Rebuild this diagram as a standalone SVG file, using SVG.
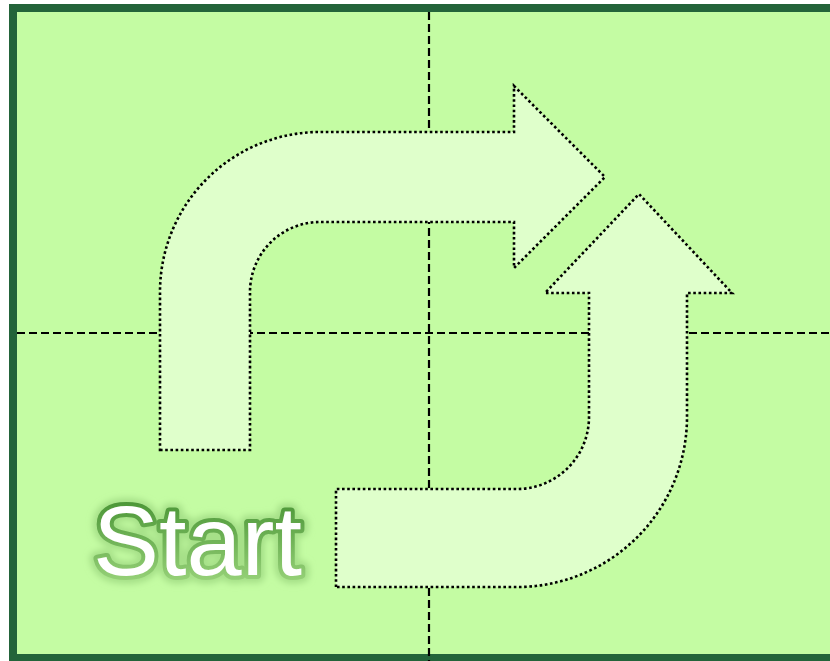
<svg xmlns="http://www.w3.org/2000/svg" width="830" height="661" viewBox="0 0 830 661">
<defs>
<style>
.grid{stroke:#000;stroke-width:2.2;stroke-dasharray:8,4;fill:none}
.arrow{fill:#dfffcb;stroke:#000;stroke-width:2.6;stroke-dasharray:2.6,2.6}
.title{font-family:"Liberation Sans",Arial,sans-serif;font-size:99px}
</style>
<linearGradient id="tg" x1="0" y1="0" x2="0" y2="1">
<stop offset="0" stop-color="#3c8a2a"/>
<stop offset="1" stop-color="#a4dc84"/>
</linearGradient>
<filter id="glow" x="-20%" y="-30%" width="140%" height="160%">
<feGaussianBlur stdDeviation="3"/>
</filter>
</defs>
<rect x="0" y="0" width="830" height="661" fill="#ffffff"/>
<rect id="frame" x="13" y="8" width="830" height="650" fill="#c4fca3" stroke="#23643a" stroke-width="8"/>
<g id="connectors">
<line class="grid" x1="17" y1="333" x2="830" y2="333"/>
<line class="grid" x1="429" y1="12" x2="429" y2="661"/>
</g>
<g id="arrow-top">
<path class="arrow" d="M160,450 L250,450 L250,292 A70,70 0 0 1 320,222 L514,222 L514,268 L605,177 L514,86 L514,132 L320,132 A160,160 0 0 0 160,292 Z"/>
</g>
<g id="arrow-bottom">
<path class="arrow" d="M336,587 L336,489 L517,489 A72,72 0 0 0 589,417 L589,293 L545,293 L639,194 L732,293 L687,293 L687,417 A170,170 0 0 1 517,587 Z"/>
</g>
<g id="start-label">
<text class="title" x="93" y="575" fill="none" stroke="#a6e088" stroke-width="16" stroke-linejoin="round" filter="url(#glow)">Start</text>
<text class="title" x="93" y="575" fill="#ffffff" stroke="url(#tg)" stroke-width="8" stroke-linejoin="round" paint-order="stroke">Start</text>
</g>
</svg>
